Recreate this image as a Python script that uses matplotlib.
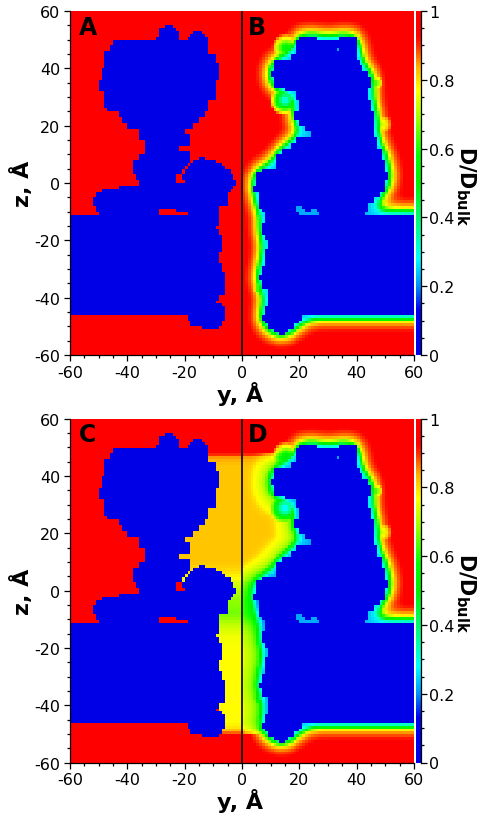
import numpy as np
import matplotlib
matplotlib.use("Agg")
import matplotlib.pyplot as plt
from matplotlib.colors import LinearSegmentedColormap

plt.rcParams['axes.unicode_minus'] = False
plt.rcParams['mathtext.fontset'] = 'dejavusans'
plt.rcParams['mathtext.default'] = 'bf'

# Outline of the protein, one entry per z band: top z of band, then blue y-spans
left_rows = [
 (54.5,[(-27,-24.5)]),(53.5,[(-29,-23)]),(52.5,[(-29,-22.5),(-16.5,-14)]),(51.5,[(-29,-22),(-17.5,-13)]),
 (50.5,[(-29.5,-22),(-18.5,-12.5)]),(49.5,[(-45,-12.3)]),(48,[(-46,-12.3)]),(46,[(-47.5,-12)]),(44.5,[(-48,-8.8)]),
 (42,[(-48.2,-8.3)]),(40.3,[(-48.5,-7.7)]),(38,[(-49,-8.5)]),(36,[(-50,-8.6)]),(33,[(-49.5,-8.7)]),(31.5,[(-48.2,-8.8)]),
 (29,[(-48,-12.3)]),(26,[(-47,-12.3)]),(25,[(-42.5,-13)]),(22.8,[(-42,-14.6)]),(20.8,[(-40,-17.5)]),(19,[(-36,-20)]),
 (17,[(-36,-18)]),(14.5,[(-34,-18)]),(13,[(-34,-22)]),(11,[(-34,-18.5)]),(9.5,[(-36,-18)]),(8.8,[(-36,-18),(-15,-13.5)]),
 (8,[(-37.5,-18.5),(-16.5,-9.5)]),(7,[(-38,-19),(-18,-7.5)]),(6,[(-38,-20),(-19,-6)]),(4.5,[(-38,-21),(-20,-4.5)]),
 (3,[(-37,-23),(-21,-3.5)]),(1.4,[(-36,-23.4),(-20.2,-2.5)]),(0.4,[(-36,-2.5)]),(-1,[(-43,-3.5)]),(-2,[(-49,-4)]),
 (-3.3,[(-51,-4.7)]),(-5,[(-52,-5)]),(-7.5,[(-52,-5.5)]),(-8.5,[(-51,-8.2)]),(-9,[(-51,-28.6),(-22.5,-8.2)]),
 (-10,[(-49.5,-28.6),(-19.3,-8.2)]),(-11.4,[(-60,-8.2)]),(-15.5,[(-60,-9.3)]),(-16.5,[(-60,-8.2)]),(-18,[(-60,-7.5)]),
 (-24,[(-60,-8)]),(-28,[(-60,-6.7)]),(-31,[(-60,-5.8)]),(-36,[(-60,-6.5)]),(-39,[(-60,-8)]),(-41,[(-60,-9.5)]),
 (-42,[(-60,-7.5)]),(-43.5,[(-60,-6.5)]),(-46.4,[(-19.3,-6.5)]),(-48.5,[(-17.5,-7.5)]),(-50,[(-13.5,-8.3)]),(-51.5,[]),
]
right_rows = [
 (50.5,[(20,26),(34.5,39.5)]),(49.5,[(19.5,39.8)]),(47,[(19.5,33),(34,39.8)]),(45.7,[(19.5,39.8)]),(44.5,[(17.5,39.5)]),
 (43,[(11,40.5)]),(41,[(10.7,42)]),(39,[(10.5,43.5)]),(37,[(11.5,44.5)]),(35,[(11.5,44.5)]),(33,[(15,44)]),(31.5,[(19,44)]),
 (29,[(20,44.5)]),(26.5,[(20,45)]),(24.5,[(18.5,45.5)]),(22,[(20,46)]),(20,[(22,46)]),(18,[(24,46)]),(16,[(19.5,46.5)]),
 (14,[(17.5,46.5)]),(12,[(14.5,48.5)]),(10,[(12,49)]),(8,[(12,49.5)]),(6,[(12,50)]),(5,[(7.5,50)]),(3.5,[(4.7,51.3)]),
 (1,[(4.7,50.3)]),(-1,[(4.5,50)]),(-3,[(6,47.5)]),(-5,[(6.5,45.5)]),(-7,[(6,44)]),(-9,[(7.5,44)]),(-10.2,[(8,42.5)]),
 (-11.4,[(8,60)]),(-14,[(7.5,60)]),(-16,[(6.7,60)]),(-18,[(8.5,60)]),(-20,[(9.5,60)]),(-23,[(8.5,60)]),(-27,[(7.7,60)]),
 (-29.5,[(7,60)]),(-32,[(6.3,60)]),(-34.5,[(7.5,60)]),(-37,[(9,60)]),(-41,[(9.2,60)]),(-43.5,[(8.5,60)]),(-45,[(7.7,60)]),
 (-46.5,[(7.5,20.6)]),(-48,[(8,20)]),(-49.5,[(9.5,18)]),(-51,[(11,16)]),(-52,[(13,15)]),(-53,[]),
]
right_holes = [(-8,-9,19.5,21),(-9,-10,19.5,22),(-9,-10,24,26),(-10,-11,20,27)]

# Diffusion fall-off near the protein
shade_levels = [0,.01,.048,.122,.203,.309,.38,.433,.5,.6,1]
shade_values = [1,.94,.90,.85,.78,.55,.42,.33,.27,.25,.2]

# Spots of low diffusion seen in panel B: y, z, lowest D, reach in angstrom
pocket_y = [15, 15.5, 48.5, 7, 46.5]
pocket_z = [29, 47, 20.5, -37, 35]
pocket_d = [.27, .52, .70, .42, .6]
pocket_r = [6, 6, 5, 3.5, 3.5]

# Pore diffusion along z
pore_z = [48,46.5,44,10,7,4,1,-3,-8,-12,-16,-22,-46,-48,-50]
pore_d = [.93,.85,.82,.82,.8,.76,.72,.68,.66,.72,.76,.77,.77,.8,.9]

cbar_pos = [0,.13,.2,.28,.37,.5,.58,.69,.77,.84,.9,.93,1]
cbar_col = ['#0000e6','#0000f0','#0090ff','#00ffff','#00ff90','#00f000','#00ff00','#a0ff00','#ffff00','#ffb000','#ff3000','#ff0000','#ff0000']
cmap = LinearSegmentedColormap.from_list('dbulk', list(zip(cbar_pos, cbar_col)), N=512)

yc = np.arange(-59.5, 60)
zc = np.arange(-59.5, 60)

def raster(rows_in):
    m = np.zeros((120, 120), bool)
    for i, (top, spans) in enumerate(rows_in):
        bot = rows_in[i+1][0] if i+1 < len(rows_in) else top-1
        for (a, b) in spans:
            rows = (zc <= top) & (zc > bot)
            cols = (yc >= a) & (yc <= b)
            m[np.ix_(rows, cols)] = True
    return m

mask_l = raster(left_rows)
mask_r = raster(right_rows)
for (t, b, a, c) in right_holes:
    mask_r[np.ix_((zc <= t) & (zc > b), (yc >= a) & (yc <= c))] = False

def blur(m):
    k = np.exp(-0.5*(np.arange(-11, 12)/3.0)**2); k /= k.sum()
    p = np.pad(m.astype(float), 11, mode='edge')
    p = np.apply_along_axis(lambda r: np.convolve(r, k, 'same'), 0, p)
    p = np.apply_along_axis(lambda r: np.convolve(r, k, 'same'), 1, p)
    return p[11:-11, 11:-11]

edge = np.interp(blur(mask_r), shade_levels, shade_values)
Y, Z = np.meshgrid(yc, zc)
for py, pz_, pd, pr in zip(pocket_y, pocket_z, pocket_d, pocket_r):
    r = np.hypot(Y-py, Z-pz_)/pr
    edge = np.minimum(edge, pd + (1-pd)*np.clip(r, 0, 1)**1.3)

def field(with_pore):
    d = np.ones((120, 120))
    d[Y > 0] = edge[Y > 0]
    if with_pore:
        pz = np.interp(Z, pore_z[::-1], pore_d[::-1])
        first = np.where(mask_r.any(axis=1), mask_r.argmax(axis=1), 0)
        limit = yc[first][:, None]
        inrow = (Z < 48) & (Z > -50.5)
        cl = inrow & (Y <= 0) & (Y > -24) & ~((Z < 3.5) & (Y < -19)) & ~((Z < -40) & (Y < -8))
        d[cl] = pz[cl]
        cr = inrow & (Y > 0) & (Y < limit)
        d[cr] = (edge**0.9*pz)[cr]
    d[mask_l] = 0
    d[mask_r] = 0
    return d

W, H = 483, 820
fig = plt.figure(figsize=(W/100, H/100), dpi=100)

def panel(top, bottom, with_pore, l1, l2):
    ax = fig.add_axes([70/W, 1-bottom/H, 344/W, (bottom-top)/H])
    ax.imshow(field(with_pore), origin='lower', extent=[-60, 60, -60, 60], cmap=cmap, vmin=0, vmax=1, interpolation='nearest', aspect='auto')
    ax.axvline(0, color='black', lw=1.2)
    ax.set_xticks(np.arange(-60, 61, 20)); ax.set_yticks(np.arange(-60, 61, 20))
    ax.set_xticks(np.arange(-60, 61, 5), minor=True); ax.set_yticks(np.arange(-60, 61, 5), minor=True)
    ax.tick_params(which='major', length=4, width=0.9, labelsize=11.5, pad=3)
    ax.tick_params(which='minor', length=2.5, width=0.9)
    ax.spines['top'].set_visible(False); ax.spines['right'].set_visible(False)
    ax.spines['left'].set_linewidth(0.9); ax.spines['bottom'].set_linewidth(0.9)
    ax.text(-57, 54.5, l1, fontsize=17, fontweight='bold', va='center')
    ax.text(2, 54.5, l2, fontsize=17, fontweight='bold', va='center')
    cax = fig.add_axes([415.5/W, 1-bottom/H, 5/W, (bottom-top)/H])
    cax.imshow(np.linspace(0, 1, 256)[:, None], origin='lower', extent=[0, 1, 0, 1], cmap=cmap, aspect='auto')
    cax.set_xticks([])
    cax.yaxis.tick_right()
    cax.set_yticks(np.arange(0, 1.01, .2)); cax.set_yticklabels(['0', '0.2', '0.4', '0.6', '0.8', '1'])
    cax.set_yticks(np.arange(0, 1.01, .05), minor=True)
    cax.tick_params(which='major', length=4, width=0.9, labelsize=11.5, pad=2)
    cax.tick_params(which='minor', length=2.5, width=0.9)
    for s in ['top', 'left', 'bottom']:
        cax.spines[s].set_visible(False)
    cax.spines['right'].set_linewidth(0.9)
    mid = (top+bottom)/2
    fig.text(22/W, 1-mid/H, 'z, Å', rotation=90, fontsize=16, fontweight='bold', ha='center', va='center')
    fig.text(240/W, 1-(bottom+38)/H, 'y, Å', fontsize=16, fontweight='bold', ha='center', va='center')
    fig.text(466/W, 1-(mid+2)/H, r'D/D$_{\mathbf{bulk}}$', rotation=270, fontsize=15, fontweight='bold', ha='center', va='center')

panel(12, 356, False, 'A', 'B')
panel(419.5, 763.5, True, 'C', 'D')
fig.savefig('out.png', dpi=100)
